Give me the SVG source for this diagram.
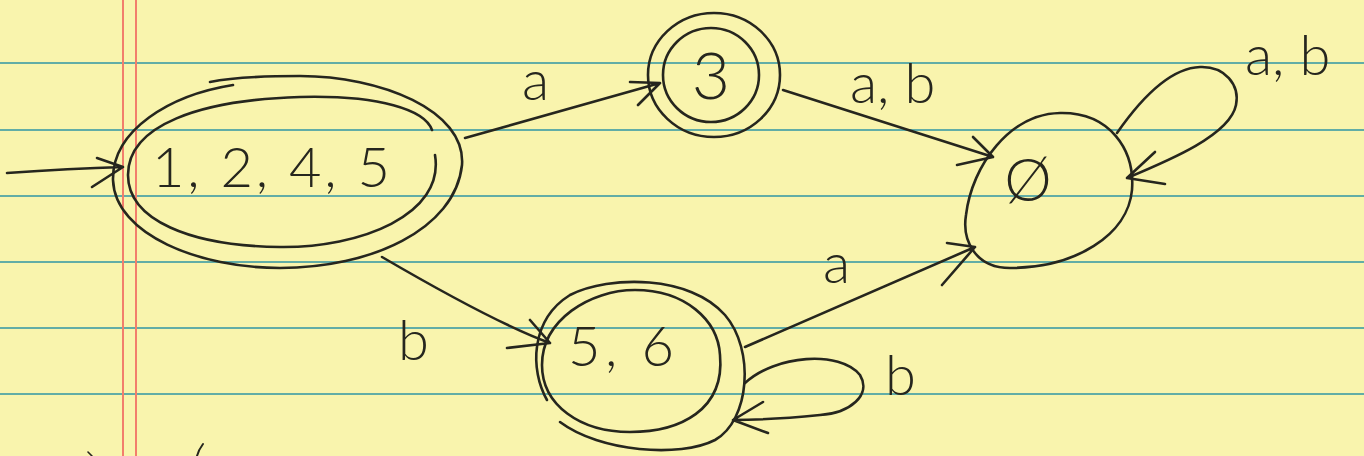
<svg xmlns="http://www.w3.org/2000/svg" width="1364" height="456" viewBox="0 0 1364 456">
<style>
.ink{fill:none;stroke:#26261e;stroke-width:2.6;stroke-linecap:round;stroke-linejoin:round}
.rule{stroke:#62ada6;stroke-width:2}
.margin{stroke:#f27e6c;stroke-width:2}
.lbl{font-family:Lato,"Open Sans","Liberation Sans",sans-serif;font-weight:300;fill:#26261e;font-size:56px}
</style>
<rect x="0" y="0" width="1364" height="456" fill="#f9f4ad"/>
<g id="paper">
<line class="rule" x1="0" y1="63" x2="1364" y2="63"/>
<line class="rule" x1="0" y1="130" x2="1364" y2="130"/>
<line class="rule" x1="0" y1="196" x2="1364" y2="196"/>
<line class="rule" x1="0" y1="262" x2="1364" y2="262"/>
<line class="rule" x1="0" y1="328" x2="1364" y2="328"/>
<line class="rule" x1="0" y1="394" x2="1364" y2="394"/>
<line class="margin" x1="123" y1="0" x2="123" y2="456"/>
<line class="margin" x1="136" y1="0" x2="136" y2="456"/>
</g>
<g id="node-1245">
<path class="ink" d="M233,85 C170,95 112,130 113,180 C115,235 200,268 280,268 C370,268 455,230 462,165 C466,110 380,76 300,76 C260,76 230,78 210,82"/>
<path class="ink" d="M435,155 C445,215 360,248 280,247 C190,246 128,220 128,175 C128,125 200,100 300,97 C380,95 425,110 432,130"/>
<text class="lbl" x="152" y="187" textLength="238">1, 2, 4, 5</text>
</g>
<g id="node-3">
<ellipse class="ink" cx="714" cy="75" rx="66" ry="62"/>
<ellipse class="ink" cx="711" cy="75" rx="48" ry="47"/>
<text class="lbl" x="711" y="99" text-anchor="middle" style="font-size:66px">3</text>
</g>
<g id="node-empty">
<path class="ink" d="M1060,113 C1110,112 1135,150 1132,190 C1128,235 1075,268 1010,268 C975,268 962,240 966,215 C972,165 1010,114 1060,113 Z"/>
<text class="lbl" x="1028" y="201" text-anchor="middle" style="font-size:60px">Ø</text>
</g>
<g id="node-56">
<path class="ink" d="M547,400 C530,370 530,320 570,295 C610,275 690,275 725,315 C755,350 750,420 715,440 C680,458 600,452 560,422"/>
<path class="ink" d="M720,355 C725,410 680,432 630,432 C580,432 542,405 542,365 C542,320 590,290 635,290 C685,290 718,320 720,355 Z"/>
<text class="lbl" x="568" y="366" textLength="106">5, 6</text>
</g>
<g id="connectors">
<path class="ink" d="M7,173 C50,170 90,168 123,167 M97,158 L123,167 L92,187"/>
<path class="ink" d="M465,138 L660,83 M630,82 L660,83 L638,105"/>
<path class="ink" d="M783,90 L993,157 M973,137 L993,157 L957,165"/>
<path class="ink" d="M1117,133 C1140,100 1170,68 1200,67 C1225,66 1240,85 1236,105 C1230,135 1170,160 1127,178 M1155,152 L1127,178 L1165,184"/>
<path class="ink" d="M382,257 C430,285 500,325 550,343 M530,320 L550,343 L507,348"/>
<path class="ink" d="M745,347 L975,247 M947,243 L975,247 L942,285"/>
<path class="ink" d="M745,383 C775,355 840,350 860,375 C872,395 850,413 820,415 C790,418 760,420 733,420 M763,402 L733,420 L768,433"/>
<text class="lbl" x="522" y="100">a</text>
<text class="lbl" x="850" y="103">a, b</text>
<text class="lbl" x="1245" y="75">a, b</text>
<text class="lbl" x="398" y="360">b</text>
<text class="lbl" x="823" y="283">a</text>
<text class="lbl" x="885" y="395">b</text>
</g>
<g id="marks">
<path class="ink" style="stroke-width:2" d="M203,444 C200,448 198,452 197,456"/>
<path class="ink" style="stroke-width:1.6" d="M88,452 L92,456"/>
</g>
</svg>
